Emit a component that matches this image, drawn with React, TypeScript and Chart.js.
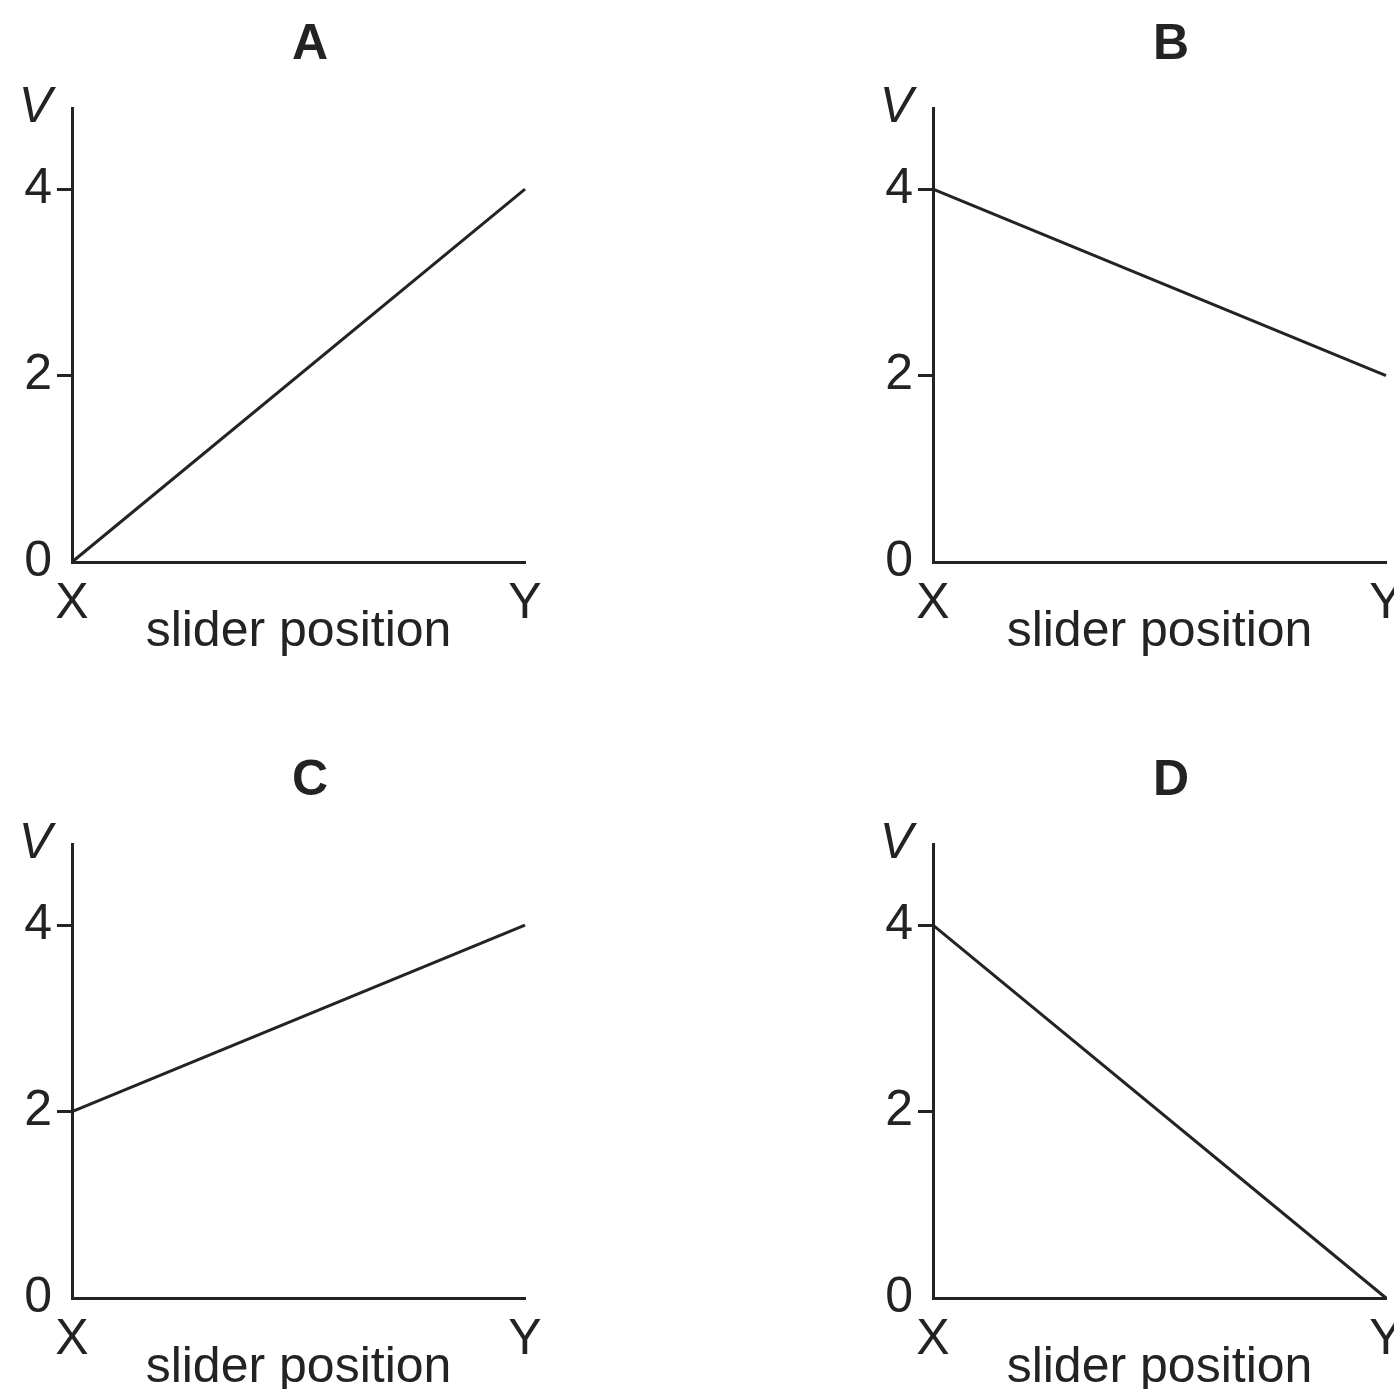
import React, { useEffect, useRef } from "react";
import { Chart, registerables } from "chart.js";

Chart.register(...registerables);

// Slider travels from end X (0) to end Y (1)
const sliderPositions = [0, 1];
const positionLabels = ["X", "Y"];

// Reading V on the meter for each arrangement
const voltageA = [0, 4];
const voltageB = [4, 2];
const voltageC = [2, 4];
const voltageD = [4, 0];

const voltageTicks = [0, 2, 4];
const voltageAxisTop = 4.87;
const axisName = "V";
const xAxisName = "slider position";

const panelTitles = ["A", "B", "C", "D"];

const FONT = '"Liberation Sans", Arial, Helvetica, sans-serif';
const INK = "#232323";
const CANVAS_W = 620;
const CANVAS_H = 690;

type PanelProps = { title: string; values: number[]; left: number; top: number };

function Panel({ title, values, left, top }: PanelProps) {
  const ref = useRef<HTMLCanvasElement | null>(null);

  useEffect(() => {
    if (!ref.current) return;
    const chart = new Chart(ref.current, {
      type: "line",
      data: {
        datasets: [
          {
            data: sliderPositions.map((x, i) => ({ x, y: values[i] })),
            borderColor: INK,
            borderWidth: 3,
            pointRadius: 0,
            tension: 0,
            fill: false,
            clip: false as any,
            yAxisID: "y",
          },
        ],
      },
      options: {
        responsive: false,
        animation: false,
        devicePixelRatio: 1,
        layout: { padding: 0 },
        plugins: {
          legend: { display: false },
          tooltip: { enabled: false },
          title: {
            display: true,
            text: title,
            color: INK,
            font: { family: FONT, size: 50, weight: "bold" },
            padding: { top: 15, bottom: 33 },
          },
        },
        scales: {
          x: {
            type: "linear",
            min: 0,
            max: 1,
            afterBuildTicks: (scale: any) => {
              scale.ticks = sliderPositions.map((v) => ({ value: v }));
            },
            afterFit: (scale: any) => {
              scale.height = 128;
            },
            ticks: {
              autoSkip: false,
              maxRotation: 0,
              padding: 12,
              color: INK,
              font: { family: FONT, size: 50 },
              callback: (v: any) => {
                const i = sliderPositions.indexOf(Number(v));
                return i >= 0 ? positionLabels[i] : "";
              },
            },
            grid: { display: false, drawTicks: false },
            border: { display: true, color: INK, width: 3 },
            title: {
              display: true,
              text: xAxisName,
              color: INK,
              font: { family: FONT, size: 50 },
              padding: { top: 0, bottom: 28 },
            },
          },
          y: {
            type: "linear",
            position: "left",
            min: 0,
            max: voltageAxisTop,
            afterBuildTicks: (scale: any) => {
              scale.ticks = [...voltageTicks, voltageAxisTop].map((v) => ({ value: v }));
            },
            afterFit: (scale: any) => {
              scale.width = 72;
            },
            ticks: {
              autoSkip: false,
              padding: 5,
              color: INK,
              font: (ctx: any) => ({
                family: FONT,
                size: 50,
                style: ctx.tick && ctx.tick.value === voltageAxisTop ? "italic" : "normal",
              }),
              callback: (v: any) => (Number(v) === voltageAxisTop ? axisName : String(v)),
            },
            grid: {
              display: true,
              drawOnChartArea: false,
              drawTicks: true,
              tickLength: 15,
              tickWidth: 3,
              tickColor: (ctx: any) =>
                ctx.tick && (ctx.tick.value === 0 || ctx.tick.value === voltageAxisTop)
                  ? "rgba(0,0,0,0)"
                  : INK,
            },
            border: { display: true, color: INK, width: 3 },
          },
          // empty margin on the right of each plot so the letter sits centred over the panel
          gutter: {
            type: "linear",
            position: "right",
            min: 0,
            max: 1,
            afterFit: (scale: any) => {
              scale.width = 95;
            },
            ticks: { display: false },
            grid: { display: false, drawTicks: false },
            border: { display: false },
          },
        },
      } as any,
    });
    return () => chart.destroy();
  }, [title, values]);

  return (
    <canvas
      ref={ref}
      width={CANVAS_W}
      height={CANVAS_H}
      style={{ position: "absolute", left, top, display: "block", width: CANVAS_W, height: CANVAS_H }}
    />
  );
}

export default function App() {
  return (
    <div
      style={{
        position: "absolute",
        left: 0,
        top: 0,
        width: 1394,
        height: 1389,
        overflow: "hidden",
        background: "#ffffff",
      }}
    >
      <Panel title={panelTitles[0]} values={voltageA} left={0} top={0} />
      <Panel title={panelTitles[1]} values={voltageB} left={861} top={0} />
      <Panel title={panelTitles[2]} values={voltageC} left={0} top={736} />
      <Panel title={panelTitles[3]} values={voltageD} left={861} top={736} />
    </div>
  );
}
